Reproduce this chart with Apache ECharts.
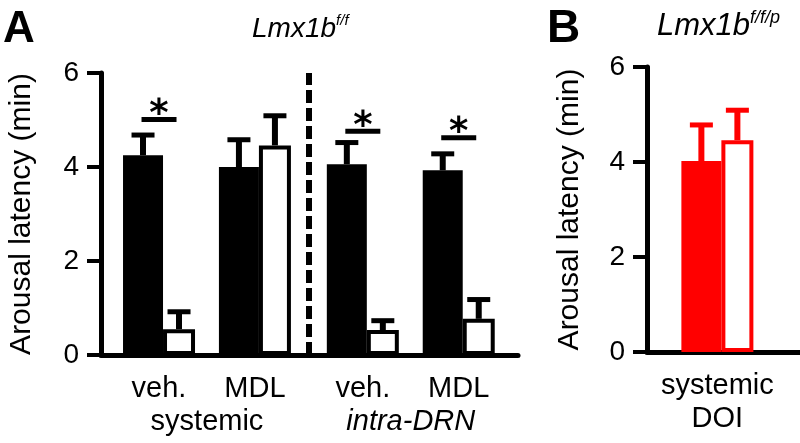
<!DOCTYPE html>
<html>
<head>
<meta charset="utf-8">
<script src="https://cdn.jsdelivr.net/npm/echarts@6/dist/echarts.min.js"></script>
<style>
  html, body { margin: 0; padding: 0; background: #fff; }
  #chart { width: 800px; height: 443px; }
</style>
</head>
<body>
<div id="chart"></div>
<script>
// panel A: group positions on the x value axis (gap widened around the dashed divider)
var groupPos = [1, 2, 3.125, 4.125];
var groupNames = ['veh.', 'MDL', 'veh.', 'MDL'];
var routePos = [1.5, 3.625];
var routeNames = ['systemic', 'intra-DRN'];
var dividerPos = 2.564;

var filledMeans = [4.25, 4.0, 4.06, 3.93];
var filledErr = [0.43, 0.58, 0.46, 0.35];
var openMeans = [0.55, 4.46, 0.53, 0.77];
var openErr = [0.37, 0.63, 0.2, 0.41];

// significance bars: [x, y]
var sigPos = [1, 3.125, 4.125];
var sigLevel = [5.01, 4.76, 4.62];

// panel B
var doiPos = [0.46];
var doiFilledMeans = [4.02];
var doiFilledErr = [0.76];
var doiOpenMeans = [4.46];
var doiOpenErr = [0.63];

var yTicks = [0, 2, 4, 6];

var FONT = 'Liberation Sans, Arial, sans-serif';
var RED = '#ff0000';
var wFilled = 40, wOpen = 32;
var offFilled = -(wFilled + wOpen) / 2 + wFilled / 2;
var offOpen = -(wFilled + wOpen) / 2 + wFilled + wOpen / 2;

var my_chart = echarts.init(document.getElementById('chart'));

function pairs(xs, ys) {
  return xs.map(function (x, i) { return [x, ys[i]]; });
}

function errSeries(axisIdx, xs, means, errs, offset, color) {
  return {
    type: 'custom',
    xAxisIndex: axisIdx, yAxisIndex: axisIdx,
    clip: false, z: 3, silent: true,
    data: xs.map(function (x, i) { return [x, means[i], means[i] + errs[i]]; }),
    renderItem: function (params, api) {
      var lo = api.coord([api.value(0), api.value(1)]);
      var hi = api.coord([api.value(0), api.value(2)]);
      var cx = lo[0] + offset;
      return {
        type: 'group',
        children: [
          { type: 'line', shape: { x1: cx, y1: lo[1], x2: cx, y2: hi[1] }, style: { stroke: color, lineWidth: 6 } },
          { type: 'line', shape: { x1: cx - 11.5, y1: hi[1], x2: cx + 11.5, y2: hi[1] }, style: { stroke: color, lineWidth: 5 } }
        ]
      };
    }
  };
}

function yAxisCfg(idx, gap) {
  return {
    type: 'value', gridIndex: idx, min: 0, max: 6, interval: 2,
    name: 'Arousal latency (min)', nameLocation: 'middle', nameGap: gap,
    nameMoveOverlap: false,
    nameTextStyle: { fontFamily: FONT, fontSize: 30, color: '#000' },
    axisLine: { show: true, lineStyle: { color: '#000', width: 5 } },
    axisTick: { show: true, length: 14, lineStyle: { color: '#000', width: 4 } },
    axisLabel: {
      margin: 22, fontFamily: FONT, fontSize: 28, color: '#000',
      formatter: function (v) { return yTicks.indexOf(v) >= 0 ? String(v) : ''; }
    },
    splitLine: { show: false }
  };
}

my_chart.setOption({
  animation: false,
  backgroundColor: '#fff',
  grid: [
    { left: 101, right: 282, top: 73, bottom: 88, outerBoundsMode: 'none', containLabel: false },
    { left: 647, right: 0, top: 67, bottom: 91, outerBoundsMode: 'none', containLabel: false }
  ],
  graphic: [
    { type: 'text', left: 3, top: 8, style: { text: 'A', font: 'bold 44px ' + FONT, fill: '#000' } },
    { type: 'text', left: 547, top: 6, style: { text: 'B', font: 'bold 46px ' + FONT, fill: '#000' } },
    {
      type: 'text', left: 252, top: 13,
      style: {
        text: '{m|Lmx1b}{s|f/f}', fill: '#000',
        rich: {
          m: { fontFamily: FONT, fontStyle: 'italic', fontSize: 28, lineHeight: 32 },
          s: { fontFamily: FONT, fontStyle: 'italic', fontSize: 15, verticalAlign: 'top', lineHeight: 32 }
        }
      }
    },
    {
      type: 'text', left: 657, top: 9,
      style: {
        text: '{m|Lmx1b}{s|f/f/p}', fill: '#000',
        rich: {
          m: { fontFamily: FONT, fontStyle: 'italic', fontSize: 31, lineHeight: 35 },
          s: { fontFamily: FONT, fontStyle: 'italic', fontSize: 18, verticalAlign: 'top', lineHeight: 35 }
        }
      }
    }
  ],
  xAxis: [
    {
      type: 'value', gridIndex: 0, min: 0.395, max: 4.743,
      axisLine: { show: true, onZero: false, lineStyle: { color: '#000', width: 5 } },
      axisTick: { show: false },
      splitLine: { show: false },
      axisLabel: {
        customValues: groupPos.concat(routePos),
        margin: 17, fontFamily: FONT, fontSize: 29, color: '#000', lineHeight: 33,
        formatter: function (v) {
          var g = groupPos.indexOf(v);
          if (g >= 0) return groupNames[g];
          var r = routePos.indexOf(v);
          if (r === 0) return '\n' + routeNames[0];
          if (r === 1) return '\n{it|' + routeNames[1] + '}';
          return '';
        },
        rich: { it: { fontFamily: FONT, fontSize: 29, fontStyle: 'italic', lineHeight: 33, color: '#000' } }
      }
    },
    {
      type: 'value', gridIndex: 1, min: 0, max: 1,
      axisLine: { show: true, onZero: false, lineStyle: { color: '#000', width: 5 } },
      axisTick: { show: false },
      splitLine: { show: false },
      axisLabel: {
        customValues: doiPos,
        margin: 17, fontFamily: FONT, fontSize: 29, color: '#000', lineHeight: 33,
        formatter: function () { return 'systemic\nDOI'; }
      }
    }
  ],
  yAxis: [yAxisCfg(0, 64), yAxisCfg(1, 62)],
  series: [
    {
      name: 'filled', type: 'bar', xAxisIndex: 0, yAxisIndex: 0,
      data: pairs(groupPos, filledMeans), barWidth: wFilled, barGap: '0%',
      itemStyle: { color: '#000' }
    },
    {
      name: 'open', type: 'bar', xAxisIndex: 0, yAxisIndex: 0,
      data: pairs(groupPos, openMeans), barWidth: wOpen, barGap: '0%',
      itemStyle: { color: '#fff', borderColor: '#000', borderWidth: 4 }
    },
    errSeries(0, groupPos, filledMeans, filledErr, offFilled, '#000'),
    errSeries(0, groupPos, openMeans, openErr, offOpen, '#000'),
    {
      type: 'custom', xAxisIndex: 0, yAxisIndex: 0, clip: false, silent: true, z: 3,
      data: pairs(sigPos, sigLevel),
      renderItem: function (params, api) {
        var p = api.coord([api.value(0), api.value(1)]);
        return {
          type: 'group',
          children: [
            { type: 'line', shape: { x1: p[0] - 17.5, y1: p[1], x2: p[0] + 17.5, y2: p[1] }, style: { stroke: '#000', lineWidth: 5 } },
            { type: 'text', x: p[0], y: p[1] - 4, style: { text: '*', font: 'bold 37px DejaVu Sans', fill: '#000', align: 'center', verticalAlign: 'middle' } }
          ]
        };
      },
      markLine: {
        silent: true, symbol: ['none', 'none'], label: { show: false },
        lineStyle: { color: '#000', width: 6, type: [13, 5] },
        data: [{ xAxis: dividerPos }]
      }
    },
    {
      name: 'filled DOI', type: 'bar', xAxisIndex: 1, yAxisIndex: 1,
      data: pairs(doiPos, doiFilledMeans), barWidth: wFilled, barGap: '0%',
      itemStyle: { color: RED }
    },
    {
      name: 'open DOI', type: 'bar', xAxisIndex: 1, yAxisIndex: 1,
      data: pairs(doiPos, doiOpenMeans), barWidth: wOpen, barGap: '0%',
      itemStyle: { color: '#fff', borderColor: RED, borderWidth: 4 }
    },
    errSeries(1, doiPos, doiFilledMeans, doiFilledErr, offFilled, RED),
    errSeries(1, doiPos, doiOpenMeans, doiOpenErr, offOpen, RED)
  ]
});
</script>
</body>
</html>
